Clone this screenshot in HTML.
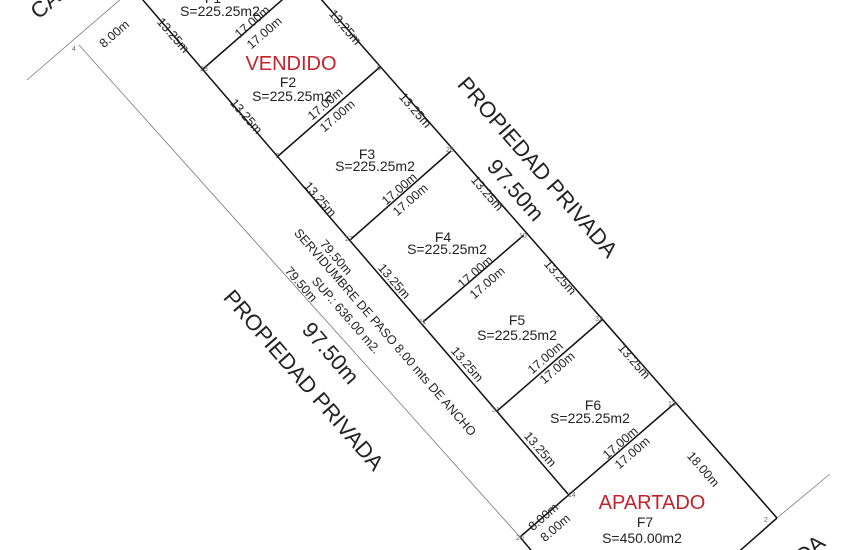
<!DOCTYPE html>
<html><head><meta charset="utf-8"><style>
html,body{margin:0;padding:0;background:#fff;}
svg{display:block;font-family:"Liberation Sans",sans-serif;}
</style></head><body>
<svg width="850" height="550" viewBox="0 0 850 550" xmlns="http://www.w3.org/2000/svg">
<rect width="850" height="550" fill="#fff"/>
<g stroke="#111" stroke-width="1.5" fill="none">
<line x1="136" y1="-8" x2="568" y2="494"/>
<line x1="320" y1="-2" x2="777" y2="518"/>
<line x1="203" y1="69" x2="290" y2="-7"/>
<line x1="277" y1="157" x2="380" y2="67"/>
<line x1="350" y1="240" x2="451" y2="151"/>
<line x1="423" y1="322" x2="524" y2="235"/>
<line x1="497" y1="411" x2="603" y2="319"/>
<line x1="520" y1="537" x2="675" y2="403"/>
<line x1="777" y1="518" x2="735" y2="555"/>
<line x1="520" y1="537" x2="535" y2="555"/>
</g>
<g stroke="#777" stroke-width="0.8" fill="none">
<line x1="79" y1="45" x2="520" y2="537"/>
<line x1="27" y1="80" x2="122" y2="-2"/>
<line x1="777" y1="518" x2="830" y2="474"/>
</g>
<g font-size="7" fill="#666">
<text x="72" y="51">4</text><text x="200" y="71">23</text><text x="377" y="70">6</text>
<text x="275" y="158">7</text><text x="446" y="152">28</text><text x="345" y="241">27</text>
<text x="519" y="238">10</text><text x="419" y="324">11</text><text x="595" y="321">32</text>
<text x="492" y="412">31</text><text x="668" y="406">13</text><text x="568" y="497">14</text>
<text x="516" y="540">20</text><text x="764" y="522">2</text>
</g>
<g font-size="14" fill="#222" text-anchor="middle">
<text x="213" y="3">F1</text><text x="220" y="16">S=225.25m2</text>
<text x="288" y="87">F2</text><text x="292" y="101">S=225.25m2</text>
<text x="367" y="159">F3</text><text x="375" y="171">S=225.25m2</text>
<text x="443" y="242">F4</text><text x="447" y="254">S=225.25m2</text>
<text x="517" y="325">F5</text><text x="517" y="340">S=225.25m2</text>
<text x="593" y="410">F6</text><text x="590" y="423">S=225.25m2</text>
<text x="645" y="527">F7</text><text x="642" y="543">S=450.00m2</text>
</g>
<g font-size="20" fill="#c8202a" text-anchor="middle">
<text x="291" y="70">VENDIDO</text>
<text x="652" y="509">APARTADO</text>
</g>
<g font-size="12.5" fill="#222" text-anchor="middle">
<g transform="translate(255,25) rotate(-41)"><text>17.00m</text></g>
<g transform="translate(267,36) rotate(-41)"><text>17.00m</text></g>
<g transform="translate(328,107) rotate(-41)"><text>17.00m</text></g>
<g transform="translate(340,119) rotate(-41)"><text>17.00m</text></g>
<g transform="translate(402,192) rotate(-41)"><text>17.00m</text></g>
<g transform="translate(413,203) rotate(-41)"><text>17.00m</text></g>
<g transform="translate(478,275) rotate(-41)"><text>17.00m</text></g>
<g transform="translate(490,286) rotate(-41)"><text>17.00m</text></g>
<g transform="translate(548,361) rotate(-41)"><text>17.00m</text></g>
<g transform="translate(560,371) rotate(-41)"><text>17.00m</text></g>
<g transform="translate(623,446) rotate(-41)"><text>17.00m</text></g>
<g transform="translate(635,456) rotate(-41)"><text>17.00m</text></g>
<g transform="translate(546,520) rotate(-41)"><text>8.00m</text></g>
<g transform="translate(558,531) rotate(-41)"><text>8.00m</text></g>
<g transform="translate(117,37) rotate(-41)"><text>8.00m</text></g>
<g transform="translate(170,38) rotate(49)"><text>13.25m</text></g>
<g transform="translate(243,119) rotate(49)"><text>13.25m</text></g>
<g transform="translate(317,202) rotate(49)"><text>13.25m</text></g>
<g transform="translate(391,284) rotate(49)"><text>13.25m</text></g>
<g transform="translate(464,367) rotate(49)"><text>13.25m</text></g>
<g transform="translate(537,452) rotate(49)"><text>13.25m</text></g>
<g transform="translate(342,30) rotate(49)"><text>13.25m</text></g>
<g transform="translate(412,113) rotate(49)"><text>13.25m</text></g>
<g transform="translate(484,196) rotate(49)"><text>13.25m</text></g>
<g transform="translate(557,280) rotate(49)"><text>13.25m</text></g>
<g transform="translate(631,364) rotate(49)"><text>13.25m</text></g>
<g transform="translate(700,472) rotate(49)"><text>18.00m</text></g>
<g transform="translate(333,260) rotate(49)"><text>79.50m</text></g>
<g transform="translate(298,287) rotate(49)"><text>79.50m</text></g>
<g transform="translate(382,335) rotate(49)"><text>SERVIDUMBRE DE PASO 8.00 mts DE ANCHO</text></g>
<g transform="translate(343,318) rotate(49)"><text>SUP.: 636.00 m2.</text></g>
</g>
<g font-size="22" fill="#222" text-anchor="middle">
<g transform="translate(532,172) rotate(49)"><text>PROPIEDAD PRIVADA</text></g>
<g transform="translate(510,195) rotate(49)"><text>97.50m</text></g>
<g transform="translate(298,385) rotate(49)"><text>PROPIEDAD PRIVADA</text></g>
<g transform="translate(325,358) rotate(49)"><text>97.50m</text></g>
<g transform="translate(50,10) rotate(-41)"><text>CA</text></g>
<g transform="translate(815,555) rotate(-41)"><text>DA</text></g>
</g>
</svg>
</body></html>
